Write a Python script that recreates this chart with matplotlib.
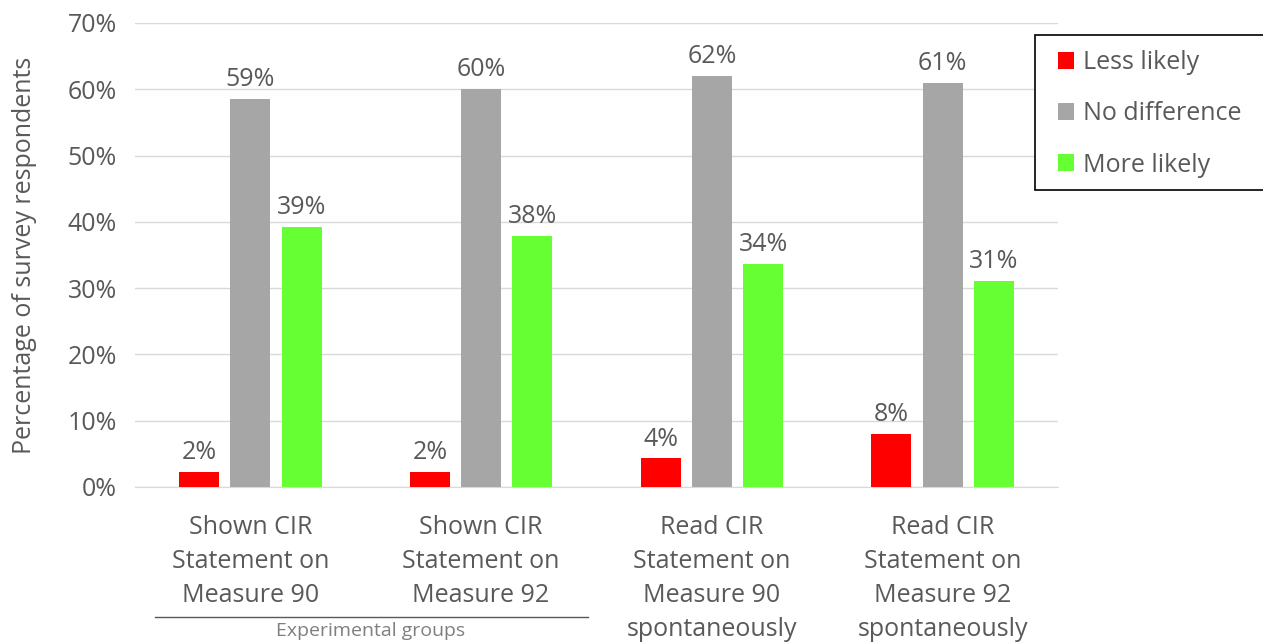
import matplotlib.pyplot as plt
from matplotlib.patches import Rectangle
import numpy as np

groups = ["Shown CIR\nStatement on\nMeasure 90",
          "Shown CIR\nStatement on\nMeasure 92",
          "Read CIR\nStatement on\nMeasure 90\nspontaneously",
          "Read CIR\nStatement on\nMeasure 92\nspontaneously"]
less_likely = [2.2, 2.2, 4.3, 8.0]
no_difference = [58.6, 60.0, 62.0, 60.9]
more_likely = [39.2, 37.9, 33.6, 31.1]
series_names = ["Less likely", "No difference", "More likely"]
colors = ["#ff0000", "#a6a6a6", "#66ff33"]
yticks = [0, 10, 20, 30, 40, 50, 60, 70]

plt.rcParams['font.family'] = ['Open Sans', 'DejaVu Sans']
text_color = '#595959'
W, H = 1263, 644

fig = plt.figure(figsize=(12.63, 6.44), dpi=100)
ax = fig.add_axes([135 / W, 1 - 487 / H, 923 / W, 464 / H])

x = np.arange(len(groups))
width = 0.174
step = 0.222
for i, (vals, name, c) in enumerate(zip([less_likely, no_difference, more_likely], series_names, colors)):
    bars = ax.bar(x + (i - 1) * step, vals, width, color=c, label=name, zorder=3)
    ax.bar_label(bars, labels=["{:.0f}%".format(v) for v in vals], padding=5,
                 fontsize=18, color=text_color)

ax.set_xlim(-0.5, 3.5)
ax.set_ylim(0, 70)
ax.set_yticks(yticks)
ax.set_yticklabels(["{}%".format(t) for t in yticks])
ax.set_xticks(x)
ax.set_xticklabels(groups, linespacing=1.48, va='top')
ax.tick_params(axis='both', length=0, labelsize=18, labelcolor=text_color)
ax.tick_params(axis='x', pad=20)
ax.tick_params(axis='y', pad=13)
ax.yaxis.grid(True, color='#d9d9d9', linewidth=1, zorder=0)
for s in ['top', 'right', 'left']:
    ax.spines[s].set_visible(False)
ax.spines['bottom'].set_color('#d9d9d9')
ax.set_ylabel("Percentage of survey respondents", fontsize=18, color=text_color, labelpad=22)

# legend box runs past the right edge like in the original
fig.add_artist(Rectangle((1035 / W, 1 - 190 / H), 240 / W, 155 / H, transform=fig.transFigure,
                         facecolor='white', edgecolor='black', linewidth=1.2, zorder=4))
leg = fig.legend(loc='upper left', bbox_to_anchor=(1058 / W, 1 - 50 / H), fontsize=18,
                 frameon=False, handlelength=0.65, handleheight=0.65, labelspacing=1.05,
                 borderpad=0, borderaxespad=0, handletextpad=0.35, labelcolor=text_color)
leg.set_zorder(5)

# bracket under the experimental groups
fig.add_artist(plt.Line2D([155 / W, 588 / W], [1 - 617 / H, 1 - 617 / H],
                          color='#595959', linewidth=1))
fig.text(371 / W, 1 - 631 / H, "Experimental groups", ha='center', va='center',
         fontsize=14, color='#7f7f7f')

fig.savefig("out.png", dpi=100)
